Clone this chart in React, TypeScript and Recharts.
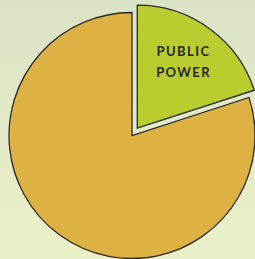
import { PieChart, Pie, Cell } from "recharts";

// --- slices (share of generation)
const names = ["PUBLIC POWER", "OTHER"];
const values = [20, 80];
const colors = ["#b9cd2f", "#ddb242"];

const data = names.map((name, i) => ({ name, value: values[i] }));

const CX = 132;
const CY = 135.5;
const R = 123;
const PULL = 9;

// --- how far the public power slice is pulled out
const total = values.reduce((a, b) => a + b, 0);
const mid = ((90 - (360 * values[0]) / total / 2) * Math.PI) / 180;
const dx = Math.cos(mid) * PULL;
const dy = -Math.sin(mid) * PULL;

const renderLabel = ({ cx, cy, midAngle, outerRadius, index }: any) => {
  if (index !== 0) return null;
  const rad = (midAngle * Math.PI) / 180;
  const x = cx + Math.cos(rad) * outerRadius * 0.64;
  const y = cy - Math.sin(rad) * outerRadius * 0.64;
  return (
    <text
      x={x}
      y={y}
      textAnchor="middle"
      fill="#26261f"
      fontFamily="Lato, 'DejaVu Sans', sans-serif"
      fontWeight="bold"
      fontSize={13}
      letterSpacing={1.4}
    >
      <tspan x={x} dy={-8.5}>PUBLIC</tspan>
      <tspan x={x} dy={21}>POWER</tspan>
    </text>
  );
};

export default function App() {
  return (
    <div
      style={{
        position: "absolute",
        left: 0,
        top: 0,
        width: 255,
        height: 259,
        background: "linear-gradient(to bottom, #dbe3c6, #eaf0c7)",
      }}
    >
      <PieChart width={255} height={259} margin={{ top: 0, right: 0, bottom: 0, left: 0 }}>
        {/* big slice, drawn in place */}
        <Pie
          data={data}
          dataKey="value"
          cx={CX}
          cy={CY}
          outerRadius={R}
          startAngle={90}
          endAngle={-270}
          stroke="#2b2b2b"
          strokeWidth={1.3}
          isAnimationActive={false}
        >
          {data.map((d, i) => (
            <Cell
              key={d.name}
              fill={i === 0 ? "none" : colors[i]}
              stroke={i === 0 ? "none" : "#2b2b2b"}
            />
          ))}
        </Pie>
        {/* pulled out slice */}
        <Pie
          data={data}
          dataKey="value"
          cx={CX + dx}
          cy={CY + dy}
          outerRadius={R}
          startAngle={90}
          endAngle={-270}
          stroke="#2b2b2b"
          strokeWidth={1.3}
          label={renderLabel}
          labelLine={false}
          isAnimationActive={false}
        >
          {data.map((d, i) => (
            <Cell
              key={d.name}
              fill={i === 0 ? colors[i] : "none"}
              stroke={i === 0 ? "#2b2b2b" : "none"}
            />
          ))}
        </Pie>
      </PieChart>
    </div>
  );
}
